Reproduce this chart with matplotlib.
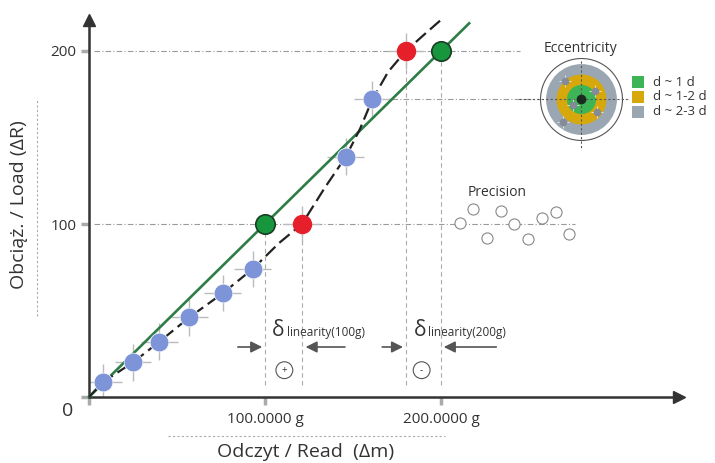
import matplotlib.pyplot as plt

plt.rcParams['font.family'] = ['Open Sans', 'DejaVu Sans']

# measured points (x = read, y = load)
blue_x = [8, 25, 40, 57, 76, 93, 146, 161]
blue_y = [8.7, 20, 32, 46, 60, 74, 139, 172]
red_x = [121, 180]
red_y = [100, 200]
green_x = [100, 200]
green_y = [100, 200]
fit_x = [0, 216]
fit_y = [0, 216]
curve_x = [0, 8, 25, 40, 57, 76, 93, 108, 121, 134, 146, 154, 161, 170, 180, 191, 200]
curve_y = [0, 8.7, 20, 32, 46, 60, 74, 89, 100, 121, 139, 155, 172, 188, 200, 210, 218]

# precision scatter around the 100 line
prec_x = [211, 218, 226, 234, 241.5, 249.5, 257.5, 265.5, 273]
prec_y = [100.6, 108.7, 91.9, 107.5, 100, 91.3, 103.5, 106.9, 94.2]

# eccentricity target
ecc_x, ecc_y = 279.5, 172
ecc_dx = [-9.1, 8.0, -4.5, 9.1, -10.2]
ecc_dy = [10.4, 4.6, -3.5, -7.5, -13.3]
ecc_labels = ['d ~ 1 d', 'd ~ 1-2 d', 'd ~ 2-3 d']
ecc_colors = ['#3db556', '#d6a80c', '#9aa6b2']
ecc_rows = [182, 173.5, 165]

txt = '#333333'
ref = '#9a9a9a'

fig = plt.figure(figsize=(7.15, 4.63), dpi=100)
ax = fig.add_axes([89 / 715, 66 / 463, 335 * 1.76 / 715, 218 * 1.73 / 463])
ax.set_xlim(0, 335)
ax.set_ylim(0, 218)

# reference lines
ax.plot([3, 245], [200, 200], color=ref, lw=0.8, dashes=(5, 2, 1, 2), zorder=1)
ax.plot([3, 276], [100, 100], color=ref, lw=0.8, dashes=(5, 2, 1, 2), zorder=1)
ax.plot([172, 306], [blue_y[-1], blue_y[-1]], color=ref, lw=0.8, dashes=(5, 2, 1, 2), zorder=1, clip_on=False)
for xv, yv in zip(green_x + red_x, green_y + red_y):
    ax.plot([xv, xv], [7, yv], color='#aaaaaa', lw=0.8, dashes=(4, 3), zorder=1)

# crosses on the points
ax.errorbar(blue_x + red_x, blue_y + red_y, xerr=10.5, yerr=10.5, fmt='none',
            ecolor='#bbbbbb', elinewidth=1, zorder=2)

ax.plot(fit_x, fit_y, color='#2e7d47', lw=1.9, zorder=3, clip_on=False)
ax.plot(curve_x, curve_y, color='#222222', lw=1.6, dashes=(6, 2.5), zorder=3, clip_on=False)

ax.plot(blue_x, blue_y, 'o', ms=13.5, color='#7d95d8', mec='white', mew=0.5, zorder=4)
ax.plot(red_x, red_y, 'o', ms=13, color='#e5202b', mec='#e5202b', zorder=4)
ax.plot(green_x, green_y, 'o', ms=14, color='#17963d', mec='#1b3d24', mew=1.2, zorder=4)

# linearity arrows
ap = dict(arrowstyle='-|>', color='#555555', lw=1.2, mutation_scale=17)
for x0, x1 in [(83, 100), (147, 121.5), (165, 180), (233, 200)]:
    ax.annotate('', xy=(x1, 28.9), xytext=(x0, 28.9), arrowprops=ap, zorder=5)
ax.text(104, 38.5, 'δ', fontsize=15, color=txt, ha='left', va='center')
ax.text(112.5, 37, 'linearity(100g)', fontsize=8.5, color=txt, ha='left', va='center')
ax.text(184.5, 38.5, 'δ', fontsize=15, color=txt, ha='left', va='center')
ax.text(192.5, 37, 'linearity(200g)', fontsize=8.5, color=txt, ha='left', va='center')
circ = dict(boxstyle='circle,pad=0.3', fc='white', ec='#555555', lw=0.8)
ax.text(111, 15.5, '+', fontsize=7, color=txt, ha='center', va='center', bbox=circ)
ax.text(189, 15.5, '-', fontsize=7, color=txt, ha='center', va='center', bbox=circ)

# precision
ax.plot(prec_x, prec_y, 'o', ms=8, mfc='white', mec='#888888', mew=0.8, zorder=4, clip_on=False)
ax.text(232, 118, 'Precision', fontsize=10, color=txt, ha='center', va='center')

# eccentricity
ax.plot(ecc_x, ecc_y, 'o', ms=59, mfc='white', mec='#555555', mew=0.8, zorder=4, clip_on=False)
ax.plot(ecc_x, ecc_y, 'o', ms=51, color=ecc_colors[2], mew=0, zorder=4, clip_on=False)
ax.plot(ecc_x, ecc_y, 'o', ms=36, color=ecc_colors[1], mew=0, zorder=4, clip_on=False)
ax.plot(ecc_x, ecc_y, 'o', ms=21, color=ecc_colors[0], mew=0, zorder=4, clip_on=False)
ax.plot([ecc_x, ecc_x], [194, 143], color='#555555', lw=0.8, dashes=(2, 2), zorder=6, clip_on=False)
ax.plot([ecc_x - 35, ecc_x + 26], [ecc_y, ecc_y], color='#555555', lw=0.8, dashes=(2, 2), zorder=6, clip_on=False)
ax.plot(ecc_x, ecc_y, 'o', ms=6, color='#1a2a1f', zorder=7, clip_on=False)
ex = [ecc_x + d for d in ecc_dx]
ey = [ecc_y + d for d in ecc_dy]
ax.plot(ex, ey, '+', ms=8, mew=0.6, color='#f0f0f0', zorder=7, clip_on=False)
ax.plot(ex, ey, 'o', ms=4.5, color='#858a98', zorder=8, clip_on=False)
ax.text(ecc_x, 201.5, 'Eccentricity', fontsize=10, color=txt, ha='center', va='center')
for yy, lab, c in zip(ecc_rows, ecc_labels, ecc_colors):
    ax.plot(312, yy, 's', ms=8, color=c, mew=0, clip_on=False)
    ax.text(320.5, yy, lab, fontsize=9.5, color=txt, ha='left', va='center')

# axes
for s in ['top', 'right']:
    ax.spines[s].set_visible(False)
for s in ['left', 'bottom']:
    ax.spines[s].set_color('#333333')
    ax.spines[s].set_linewidth(1.8)
ax.plot(1, 0, '>', ms=9, color='#333333', transform=ax.get_yaxis_transform(), clip_on=False)
ax.plot(0, 1, '^', ms=9, color='#333333', transform=ax.get_xaxis_transform(), clip_on=False)

ax.set_xticks([0, 100, 200], ['', '100.0000 g', '200.0000 g'])
ax.set_yticks([0, 100, 200], ['', '100', '200'])
ax.tick_params(axis='both', length=6, width=2.5, color='#aaaaaa', labelcolor=txt, labelsize=11)
ax.tick_params(axis='x', pad=5)
ax.tick_params(axis='y', pad=3)
ax.text(-12, -8, '0', fontsize=14, color=txt, ha='center', va='center')

ax.text(-40, 111, 'Obciąż. / Load (ΔR)', fontsize=14, color=txt, rotation=90,
        ha='center', va='center')
ax.plot([-29.5, -29.5], [47, 173], color='#aaaaaa', lw=0.8, dashes=(2, 2), clip_on=False)
ax.text(123, -32, 'Odczyt / Read  (Δm)', fontsize=14, color=txt, ha='center', va='center')
ax.plot([45, 202], [-22.5, -22.5], color='#aaaaaa', lw=0.8, dashes=(2, 2), clip_on=False)

fig.savefig('out.png', dpi=100)
